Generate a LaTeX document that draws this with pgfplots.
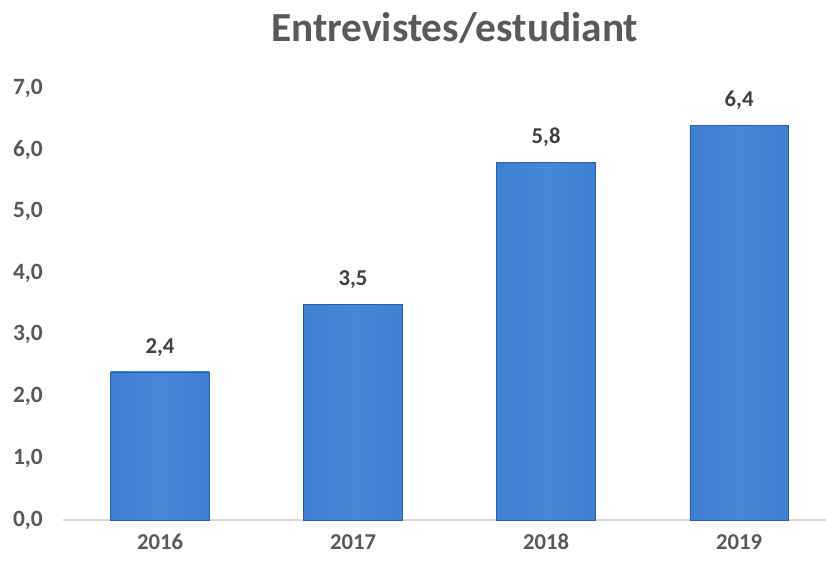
\documentclass[border=0pt]{standalone}
\usepackage{pgfplots}
\pgfplotsset{compat=1.18}
\usepackage{fontspec}
\setmainfont{Carlito}
\definecolor{tickgray}{HTML}{595959}
\definecolor{labgray}{HTML}{404040}
\definecolor{axgray}{HTML}{D9D9D9}
\definecolor{bardark}{HTML}{2A5EA6}
\definecolor{barmid}{HTML}{3B7BCD}
\definecolor{barlight}{HTML}{4687D8}
\pgfdeclarehorizontalshading{barsh}{100bp}{color(0bp)=(bardark); color(8bp)=(barmid); color(50bp)=(barlight); color(92bp)=(barmid); color(100bp)=(bardark)}
\begin{document}
\begin{tikzpicture}[x=1pt,y=1pt]
\begin{axis}[
  name=ax,
  x=144.75pt, y=46.28pt,
  xmin=-0.5, xmax=3.45,
  ymin=0, ymax=7,
  axis lines*=left,
  axis line style={-},
  x axis line style={draw=axgray, line width=1pt},
  y axis line style={draw=none},
  major tick length=0pt,
  xtick={0,1,2,3},
  xticklabels={2016,2017,2018,2019},
  ytick={0,1,...,7},
  /pgf/number format/.cd, fixed, fixed zerofill, precision=1, use comma, assume math mode=true,
  /pgfplots/.cd,
  yticklabel style={font=\fontsize{17.5}{17.5}\selectfont\bfseries, text=tickgray, xshift=-12pt},
  xticklabel style={font=\fontsize{17}{17}\selectfont\bfseries, text=tickgray, yshift=-10.5pt, inner sep=0pt},
  title={Entrevistes/estudiant},
  title style={font=\fontsize{31}{31}\selectfont\bfseries, text=tickgray, anchor=center, at={(0.513,1)}, yshift=39pt},
  ybar, bar width=74pt, bar shift=0pt,
  nodes near coords,
  every node near coord/.append style={font=\fontsize{17}{17}\selectfont\bfseries, text=labgray, yshift=8pt,
     /pgf/number format/.cd, fixed, fixed zerofill, precision=1, use comma, assume math mode=true},
  barstyle/.style={draw=bardark, line width=0.4pt, shade, shading=barsh},
]
\addplot[barstyle] coordinates {(0,2.4)};
\addplot[barstyle] coordinates {(1,3.5)};
\addplot[barstyle] coordinates {(2,5.8)};
\addplot[barstyle] coordinates {(3,6.4)};
\end{axis}
\pgfresetboundingbox
\path ([xshift=-47.6pt, yshift=-30pt]ax.south west) rectangle ([yshift=66pt]ax.north east);
\end{tikzpicture}
\end{document}
